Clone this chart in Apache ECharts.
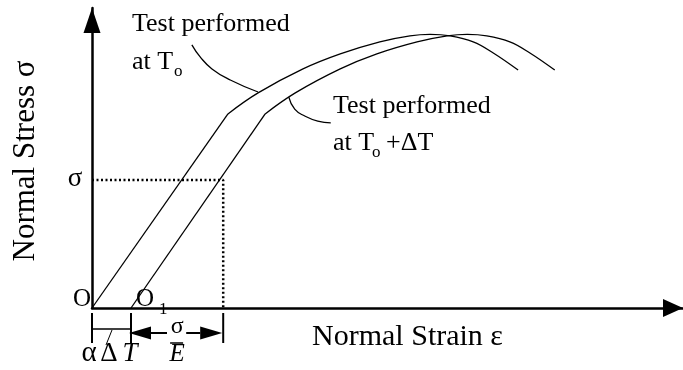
<!DOCTYPE html>
<html>
<head>
<meta charset="utf-8">
<script src="https://cdn.jsdelivr.net/npm/echarts@6/dist/echarts.min.js"></script>
<style>
  html, body { margin: 0; padding: 0; background: #fff; }
  #chart { width: 683px; height: 370px; }
</style>
</head>
<body>
<div id="chart"></div>
<script>
// stress-strain curves, axis units are arbitrary
var FONT = 'Liberation Serif';

// test at To
var t0ElasticStrain = [0, 23.0];
var t0ElasticStress = [0, 64.7];
var t0PlasticStrain = [23.0, 28.1, 35.7, 42.0, 48.7, 53.8, 57.2, 60.6, 64.5, 67.9, 72.1];
var t0PlasticStress = [64.7, 71.7, 79.7, 84.7, 88.7, 90.7, 91.2, 90.7, 88.7, 85.0, 79.3];

// test at To + dT
var t1ElasticStrain = [6.6, 29.3];
var t1ElasticStress = [0, 64.7];
var t1PlasticStrain = [29.3, 34.4, 42.0, 48.2, 55.0, 60.1, 63.5, 66.8, 70.7, 74.1, 78.3];
var t1PlasticStress = [64.7, 71.7, 79.7, 84.7, 88.7, 90.7, 91.2, 90.7, 88.7, 85.0, 79.3];

// leader lines from the labels to the curves
var leader1Strain = [16.9, 18.3, 20.3, 23.4, 28.1];
var leader1Stress = [87.7, 83.7, 79.7, 76.0, 72.0];
var leader2Strain = [33.3, 34.3, 36.0, 38.2, 40.4];
var leader2Stress = [70.3, 66.3, 64.0, 62.3, 61.7];

// sigma level and the strains marked under the axis
var sigmaStress = 42.7;
var sigmaStrain = 22.2;
var thermalStrain = 6.6;

function pairs(xs, ys) {
  return xs.map(function (x, i) { return [x, ys[i]]; });
}

function curve(data, smooth, dash) {
  return {
    type: 'line',
    data: data,
    smooth: smooth,
    showSymbol: false,
    silent: true,
    clip: false,
    lineStyle: { color: '#000', width: dash ? 2.5 : 1.3, type: dash ? [2, 2.5] : 'solid' }
  };
}

var chart = echarts.init(document.getElementById('chart'), null, { renderer: 'canvas' });

var axisArrow = {
  show: true,
  symbol: ['none', 'triangle'],
  lineStyle: { color: '#000', width: 2.5 }
};

chart.setOption({
  animation: false,
  backgroundColor: '#fff',
  grid: { left: 92, right: 0, top: 8, bottom: 62, containLabel: false, outerBoundsMode: 'none' },
  xAxis: {
    type: 'value', min: 0, max: 100,
    axisLine: Object.assign({}, axisArrow, { symbolSize: [18, 20], symbolOffset: [0, -10] }),
    axisTick: { show: false }, axisLabel: { show: false }, splitLine: { show: false },
    name: 'Normal Strain ε', nameLocation: 'middle', nameGap: 14,
    nameTextStyle: { fontFamily: FONT, fontSize: 30, color: '#000', padding: [0, 0, 0, 40] }
  },
  yAxis: {
    type: 'value', min: 0, max: 100,
    axisLine: Object.assign({}, axisArrow, { symbolSize: [17, 25], symbolOffset: [0, -12.5] }),
    axisTick: { show: false }, axisLabel: { show: false }, splitLine: { show: false },
    name: 'Normal Stress σ', nameLocation: 'middle', nameGap: 51, nameRotate: 90,
    nameTextStyle: { fontFamily: FONT, fontSize: 31, color: '#000', padding: [0, 6, 0, 0] }
  },
  series: [
    curve(pairs(t0ElasticStrain, t0ElasticStress), false),
    curve(pairs(t0PlasticStrain, t0PlasticStress), 0.4),
    curve(pairs(t1ElasticStrain, t1ElasticStress), false),
    curve(pairs(t1PlasticStrain, t1PlasticStress), 0.4),
    curve(pairs(leader1Strain, leader1Stress), 0.5),
    curve(pairs(leader2Strain, leader2Stress), 0.5),
    curve([[0, sigmaStress], [sigmaStrain, sigmaStress], [sigmaStrain, 0]], false, true)
  ]
});

// annotations: positions taken from the axes
var xO = chart.convertToPixel({ gridIndex: 0 }, [0, 0])[0];
var yAx = chart.convertToPixel({ gridIndex: 0 }, [0, 0])[1];
var xO1 = chart.convertToPixel({ gridIndex: 0 }, [thermalStrain, 0])[0];
var xS = chart.convertToPixel({ gridIndex: 0 }, [sigmaStrain, 0])[0];
var ySig = chart.convertToPixel({ gridIndex: 0 }, [0, sigmaStress])[1];

function txt(s, x, baseline, size, opts) {
  opts = opts || {};
  return {
    type: 'text', silent: true,
    style: {
      text: s, x: x, y: baseline - size * 0.34,
      fontFamily: FONT, fontSize: size, fontStyle: opts.italic ? 'italic' : 'normal',
      fill: '#000',
      align: opts.align || 'left', textAlign: opts.align || 'left',
      verticalAlign: 'middle', textVerticalAlign: 'middle'
    }
  };
}
function seg(x1, y1, x2, y2, w) {
  return { type: 'line', silent: true, shape: { x1: x1, y1: y1, x2: x2, y2: y2 },
    style: { stroke: '#000', lineWidth: w || 2 } };
}
function tri(pts) {
  return { type: 'polygon', silent: true, shape: { points: pts }, style: { fill: '#000' } };
}

var yArr = yAx + 25;
var mid = (xO1 + xS) / 2;

chart.setOption({
  graphic: [
    txt('Test performed', 132, 33, 26),
    txt('at T', 132, 71, 26),
    txt('o', 174, 77, 17),
    txt('Test performed', 333, 115, 26),
    txt('at T', 333, 152, 26),
    txt('o', 372, 158, 17),
    txt('+ΔT', 386, 152, 26),
    txt('σ', xO - 17, ySig + 8, 27, { align: 'center' }),
    txt('O', xO - 1, yAx, 25, { align: 'right' }),
    txt('O', xO1 + 5, yAx, 25),
    txt('1', xO1 + 28, yAx + 7, 17),
    // dimension lines under the axis
    seg(xO, yAx + 5, xO, yAx + 35),
    seg(xO1, yAx + 5, xO1, yAx + 35),
    seg(xS, yAx + 5, xS, yAx + 35),
    seg(xO, yAx + 21, xO1, yAx + 21, 1.5),
    seg(xO + 14, yAx + 37, xO + 20, yAx + 22, 1),
    tri([[xO1 - 2, yArr], [xO1 + 20, yArr - 6.5], [xO1 + 20, yArr + 6.5]]),
    seg(xO1 + 20, yArr, xO1 + 36, yArr),
    tri([[xS - 1, yArr], [xS - 23, yArr - 6.5], [xS - 23, yArr + 6.5]]),
    seg(xS - 37, yArr, xS - 23, yArr),
    txt('σ', mid, yAx + 27, 24, { align: 'center' }),
    seg(mid - 7, yAx + 35, mid + 6, yAx + 35, 1.5),
    txt('E', mid, yAx + 55, 25, { align: 'center', italic: true }),
    txt('α', 89, yAx + 55, 29, { align: 'center' }),
    txt('Δ', 109, yAx + 55, 27, { align: 'center' }),
    txt('T', 130, yAx + 55, 27, { align: 'center', italic: true })
  ]
});
</script>
</body>
</html>
